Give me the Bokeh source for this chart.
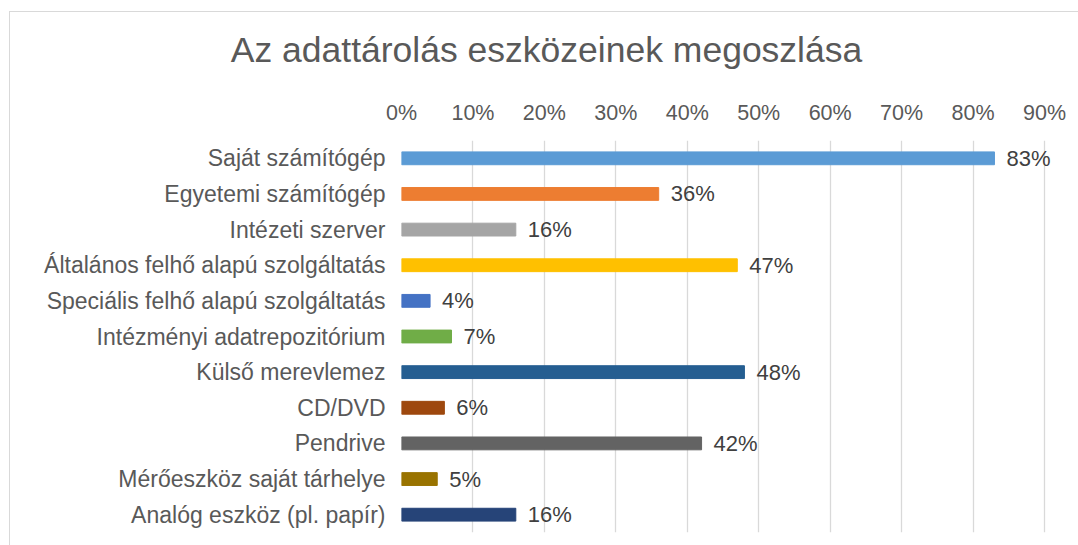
from bokeh.plotting import figure
from bokeh.models import ColumnDataSource, FactorRange, Range1d, FixedTicker, PrintfTickFormatter, InlineStyleSheet
from bokeh.core.properties import value
from bokeh.embed import file_html
from bokeh.resources import INLINE

title_text = "Az adattárolás eszközeinek megoszlása"
categories = [
    "Saját számítógép",
    "Egyetemi számítógép",
    "Intézeti szerver",
    "Általános felhő alapú szolgáltatás",
    "Speciális felhő alapú szolgáltatás",
    "Intézményi adatrepozitórium",
    "Külső merevlemez",
    "CD/DVD",
    "Pendrive",
    "Mérőeszköz saját tárhelye",
    "Analóg eszköz (pl. papír)",
]
values = [83, 36, 16, 47, 4, 7, 48, 6, 42, 5, 16]
tick_values = [0, 10, 20, 30, 40, 50, 60, 70, 80, 90]
bar_colors = ["#5B9BD5", "#ED7D31", "#A5A5A5", "#FFC000", "#4472C4", "#70AD47",
              "#255E91", "#9E480E", "#636363", "#997300", "#264478"]

FONT = "Liberation Sans"
TEXT_GRAY = "#595959"

src = ColumnDataSource(dict(
    cat=categories,
    val=values,
    label=[f"{v}%" for v in values],
    color=bar_colors,
))

p = figure(
    width=1078, height=545,
    y_range=FactorRange(factors=list(reversed(categories))),
    x_range=Range1d(0, 94.76),
    x_axis_location="above",
    output_backend="svg",
    toolbar_location=None,
)
# light chart-area frame (left and top edges)
p.stylesheets = [InlineStyleSheet(css=(
    ":host::after { content: ''; position: absolute; left: 9px; top: 11px; "
    "right: -20px; bottom: -20px; border-left: 1px solid #d9d9d9; "
    "border-top: 1px solid #d9d9d9; z-index: 10; pointer-events: none; }"
))]
p.min_border_left = 401
p.min_border_right = 0
p.min_border_top = 140
p.min_border_bottom = 13
p.outline_line_color = None
p.background_fill_color = "white"
p.border_fill_color = "white"

p.title.text = title_text
p.title.text_font = FONT
p.title.text_font_size = "35.5px"
p.title.text_font_style = "normal"
p.title.text_color = TEXT_GRAY
p.title.align = "left"
p.title.vertical_align = "top"
p.title.offset = -170.7
p.title.standoff = 52

p.hbar(y="cat", right="val", left=0, height=0.36, color="color", source=src)
p.text(x="val", y="cat", text="label", source=src, x_offset=12,
       text_baseline="middle", text_align="left",
       text_font=value(FONT), text_font_size="22px", text_color="#404040")

xa = p.xaxis[0]
xa.ticker = FixedTicker(ticks=tick_values)
xa.formatter = PrintfTickFormatter(format="%d%%")
xa.axis_line_color = None
xa.major_tick_line_color = None
xa.minor_tick_line_color = None
xa.major_label_text_font = FONT
xa.major_label_text_font_size = "21.5px"
xa.major_label_text_color = TEXT_GRAY
xa.major_label_standoff = 10

ya = p.yaxis[0]
ya.axis_line_color = None
ya.major_tick_line_color = None
ya.minor_tick_line_color = None
ya.major_label_text_font = FONT
ya.major_label_text_font_size = "23px"
ya.major_label_text_color = TEXT_GRAY
ya.major_label_standoff = 10

p.xgrid.grid_line_color = "#d9d9d9"
p.xgrid.grid_line_width = 1.3
p.ygrid.grid_line_color = None

open("out.html", "w").write(file_html(p, INLINE))
